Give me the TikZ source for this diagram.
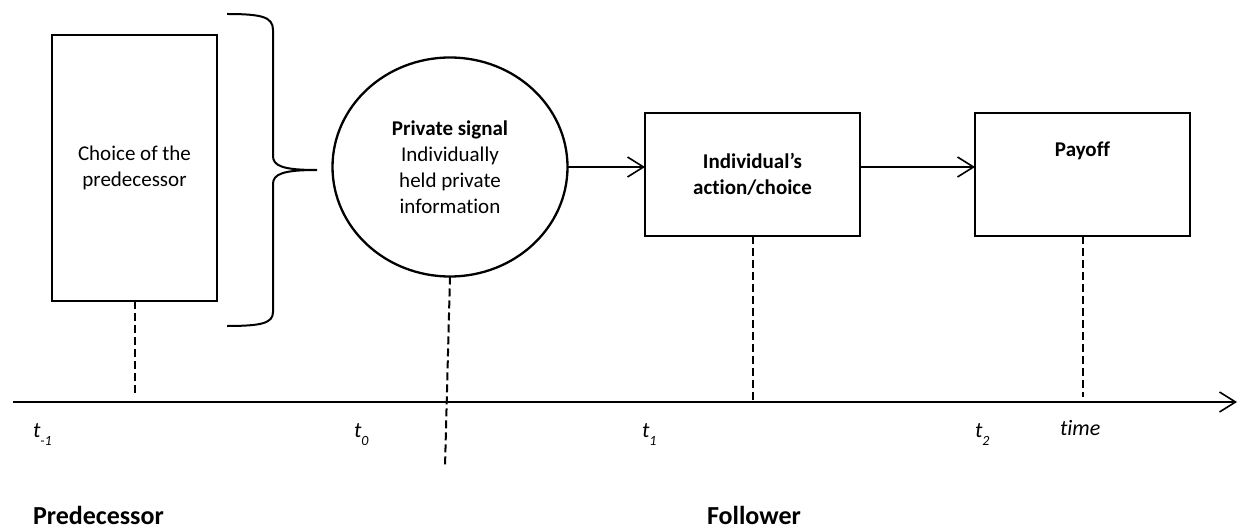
\documentclass[tikz,border=0pt]{standalone}
\usepackage{fontspec}
\setmainfont{Carlito}[Ligatures=NoCommon]
\usetikzlibrary{arrows.meta,shapes.geometric}

\begin{document}
\begin{tikzpicture}[x=1pt,y=-1pt,
  every node/.style={inner sep=0pt, outer sep=0pt},
  txt/.style={font=\fontsize{21}{26}\selectfont, align=center},
  stagebox/.style={draw, line width=2.8pt, rectangle, txt},
  sigshape/.style={draw, line width=2.3pt, ellipse, txt},
  flow/.style={line width=1.6pt, -{Straight Barb[length=16pt,width=20pt,line width=1.6pt]}},
  timeline/.style={line width=2pt, -{Straight Barb[length=16pt,width=20pt,line width=1.6pt]}},
  guide/.style={line width=2pt, dash pattern=on 8pt off 4pt},
  tick/.style={anchor=base west, font=\fontsize{22}{22}\selectfont\itshape},
  who/.style={anchor=base west, font=\fontsize{26}{26}\selectfont\bfseries}]

\useasboundingbox (0,0) rectangle (1246,529);

% stages of the game
\node[stagebox, minimum width=165pt, minimum height=266pt] (pred) at (134.5,168)
  {Choice of the\\predecessor};
\node[sigshape, minimum width=235pt, minimum height=219pt] (sig) at (450,167)
  {\textbf{Private signal}\\Individually\\held private\\information};
\node[stagebox, minimum width=215pt, minimum height=123pt] (act) at (752.5,174.5)
  {\textbf{Individual’s}\\\textbf{action/choice}};
\node[stagebox, minimum width=215pt, minimum height=123pt,
  label={[anchor=center, yshift=-38pt, txt]north:\textbf{Payoff}}] (pay) at (1082.5,174.5) {};

% brace collecting the predecessor's choice
\coordinate (brtop) at (227,14);
\coordinate (brtip) at (317,170);
\coordinate (brbot) at (227,326);
\draw[line width=2pt] (brtop) .. controls (262,14) and (273,17) .. (273,30)
  -- (273,156) .. controls (273,166) and (283,170) .. (brtip)
  .. controls (283,170) and (273,174) .. (273,184)
  -- (273,312) .. controls (273,323) and (262,326) .. (brbot);

% flow arrows
\draw[flow] (sig.east) -- (sig.east -| act.west);
\draw[flow] (sig.east -| act.east) -- (sig.east -| pay.west);

% time axis
\coordinate (ax0) at (13,402);
\coordinate (ax1) at (1237,402);
\draw[timeline] (ax0) -- (ax1);

% guides down to the axis
\coordinate (g1) at (134.5,395);
\coordinate (g2) at (445,467);
\coordinate (g4) at (1082.5,397);
\draw[guide] (pred.south) -- (g1);
\draw[guide] (sig.south) -- (g2);
\draw[guide] (act.south) -- (act.south |- ax0);
\draw[guide] (pay.south) -- (g4);

% time points
\newcommand{\tpt}[1]{t\raisebox{-8pt}{\fontsize{14}{14}\selectfont #1}}
\node[tick] (tm1) at (33,437) {\tpt{-1}};
\node[tick] (t0) at (354,437) {\tpt{0}};
\node[tick] (t1) at (642,437) {\tpt{1}};
\node[tick] (t2) at (975,437) {\tpt{2}};
\node[tick] (tt) at (1060,435) {time};

% players
\node[who] (lp) at (33,524) {Predecessor};
\node[who] (lf) at (707,524) {Follower};
\end{tikzpicture}
\end{document}
